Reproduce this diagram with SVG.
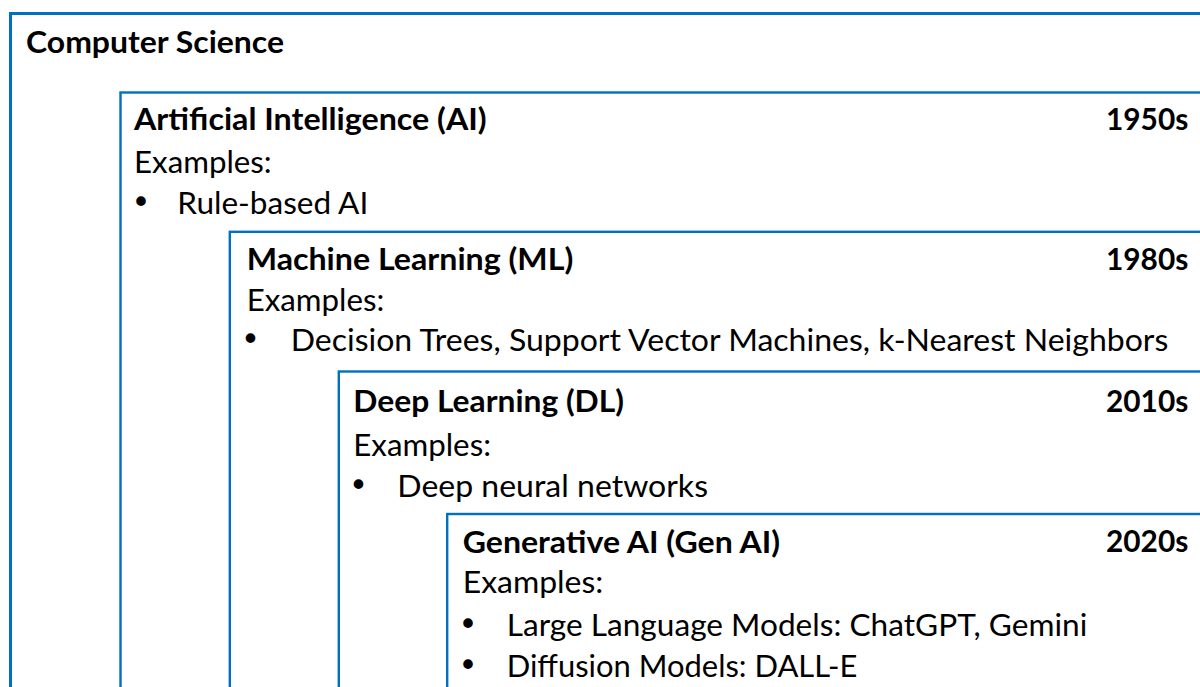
<svg xmlns="http://www.w3.org/2000/svg" width="1200" height="687" viewBox="0 0 1200 687">
  <style>
    .frame { fill: none; stroke: #0070C0; stroke-width: 2.4; }
    .outer { stroke-width: 3; }
    .t { font-family: Lato, "Open Sans", "Liberation Sans", sans-serif; font-size: 31px; fill: #000; }
    .b { font-weight: 700; }
    .yr { text-anchor: end; }
    .dot { font-family: "DejaVu Sans", sans-serif; font-size: 33px; text-anchor: middle; }
  </style>
  <rect width="1200" height="687" fill="#fff"/>

  <!-- nested fields, each frame runs past the right and bottom edges -->
  <g id="computer-science">
    <rect class="frame outer" x="10.5" y="13.5" width="1400" height="1000"/>
    <text class="t b" x="26" y="52.7" textLength="258" lengthAdjust="spacingAndGlyphs">Computer Science</text>
  </g>

  <g id="artificial-intelligence">
    <rect class="frame" x="120.5" y="92.5" width="1400" height="1000"/>
    <text class="t b" x="134" y="129.5" textLength="352.7" lengthAdjust="spacingAndGlyphs">Artificial Intelligence (AI)</text>
    <text class="t b yr" x="1188.3" y="129.5" textLength="82.3" lengthAdjust="spacingAndGlyphs">1950s</text>
    <text class="t" x="134" y="172.5" textLength="137.7" lengthAdjust="spacingAndGlyphs">Examples:</text>
    <text class="t dot" x="141" y="213.7">•</text>
    <text class="t" x="177.3" y="213.7" textLength="191" lengthAdjust="spacingAndGlyphs">Rule-based AI</text>
  </g>

  <g id="machine-learning">
    <rect class="frame" x="229.8" y="231.8" width="1400" height="1000"/>
    <text class="t b" x="246.7" y="270" textLength="326.6" lengthAdjust="spacingAndGlyphs">Machine Learning (ML)</text>
    <text class="t b yr" x="1188.3" y="270" textLength="82.3" lengthAdjust="spacingAndGlyphs">1980s</text>
    <text class="t" x="246.7" y="310.5" textLength="137.7" lengthAdjust="spacingAndGlyphs">Examples:</text>
    <text class="t dot" x="250.5" y="351">•</text>
    <text class="t" x="290.7" y="351" textLength="877.6" lengthAdjust="spacingAndGlyphs">Decision Trees, Support Vector Machines, k-Nearest Neighbors</text>
  </g>

  <g id="deep-learning">
    <rect class="frame" x="338.8" y="371.5" width="1400" height="1000"/>
    <text class="t b" x="353.3" y="412.3" textLength="270.7" lengthAdjust="spacingAndGlyphs">Deep Learning (DL)</text>
    <text class="t b yr" x="1188.3" y="411.7" textLength="82.3" lengthAdjust="spacingAndGlyphs">2010s</text>
    <text class="t" x="353.3" y="456" textLength="137.7" lengthAdjust="spacingAndGlyphs">Examples:</text>
    <text class="t dot" x="358.5" y="496.7">•</text>
    <text class="t" x="397.3" y="496.7" textLength="310.7" lengthAdjust="spacingAndGlyphs">Deep neural networks</text>
  </g>

  <g id="generative-ai">
    <rect class="frame" x="447.2" y="514" width="1400" height="1000"/>
    <text class="t b" x="462.7" y="553" textLength="317.3" lengthAdjust="spacingAndGlyphs">Generative AI (Gen AI)</text>
    <text class="t b yr" x="1188.3" y="551.5" textLength="82.3" lengthAdjust="spacingAndGlyphs">2020s</text>
    <text class="t" x="462.7" y="593.3" textLength="140.6" lengthAdjust="spacingAndGlyphs">Examples:</text>
    <text class="t dot" x="468" y="636">•</text>
    <text class="t" x="506.7" y="636" textLength="580.6" lengthAdjust="spacingAndGlyphs">Large Language Models: ChatGPT, Gemini</text>
    <text class="t dot" x="468" y="676.7">•</text>
    <text class="t" x="506.7" y="676.7" textLength="350.6" lengthAdjust="spacingAndGlyphs">Diffusion Models: DALL-E</text>
  </g>
</svg>
